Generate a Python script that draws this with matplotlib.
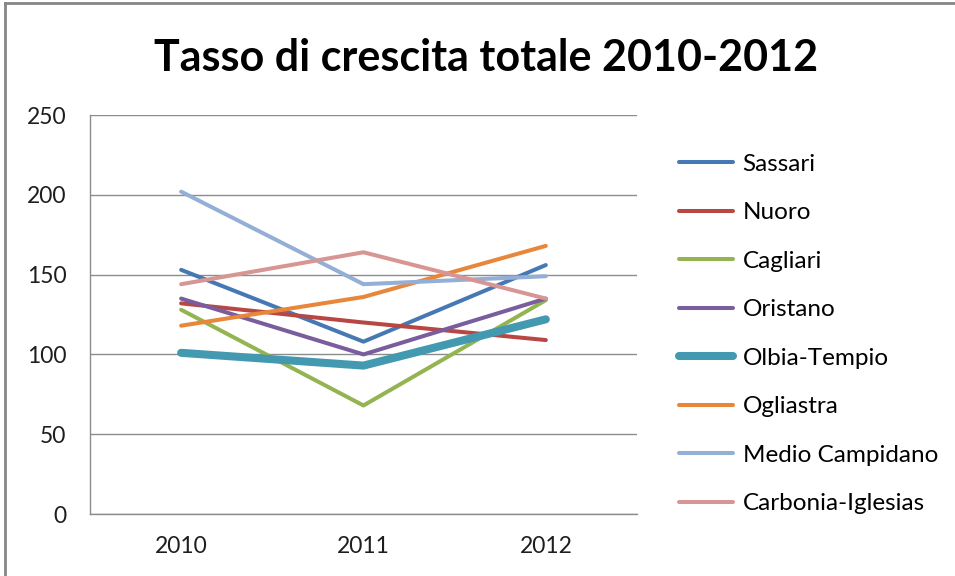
import matplotlib
matplotlib.use("Agg")
import matplotlib.pyplot as plt
from matplotlib.lines import Line2D

plt.rcParams['font.family'] = ['Lato', 'DejaVu Sans']

years = ['2010', '2011', '2012']
province = ['Sassari', 'Nuoro', 'Cagliari', 'Oristano', 'Olbia-Tempio',
            'Ogliastra', 'Medio Campidano', 'Carbonia-Iglesias']

sassari = [153, 108, 156]
nuoro = [132, 120, 109]
cagliari = [128, 68, 134]
oristano = [135, 100, 135]
olbia = [101, 93, 122]
ogliastra = [118, 136, 168]
medio_campidano = [202, 144, 149]
carbonia = [144, 164, 135]

series = [sassari, nuoro, cagliari, oristano, olbia, ogliastra, medio_campidano, carbonia]
colori = ['#4678B4', '#B84744', '#93B451', '#795D9C', '#4399B0',
          '#E8863A', '#93AFD5', '#D79593']
spessori = [2.9, 2.9, 2.9, 2.9, 5.8, 2.9, 2.9, 2.9]

fig = plt.figure(figsize=(9.55, 5.76), dpi=100)
ax = fig.add_axes([0.0942, 0.1076, 0.5728, 0.6927])

x = list(range(len(years)))
for nome, valori, c, lw in zip(province, series, colori, spessori):
    ax.plot(x, valori, color=c, lw=lw, label=nome, solid_capstyle='round',
            solid_joinstyle='round')

ax.set_xlim(-0.5, len(years) - 0.5)
ax.set_ylim(0, 250)
ax.set_yticks(range(0, 251, 50))
ax.set_xticks(x)
ax.set_xticklabels(years)
ax.grid(axis='y', color='#8c8c8c', lw=1.0)
ax.set_axisbelow(True)
for s in ['top', 'right']:
    ax.spines[s].set_visible(False)
for s in ['left', 'bottom']:
    ax.spines[s].set_color('#8c8c8c')
    ax.spines[s].set_linewidth(1.0)
ax.tick_params(length=0, labelsize=16.5, colors='#1e1e1e')
ax.tick_params(axis='y', pad=17)
ax.tick_params(axis='x', pad=16)

fig.text(0.509, 0.90, 'Tasso di crescita totale 2010-2012', ha='center', va='center',
         fontsize=31, fontweight='bold')

fig.legend(loc='upper left', bbox_to_anchor=(0.688, 0.771), frameon=False,
           fontsize=17.5, handlelength=2.22, handletextpad=0.4, labelspacing=1.13)

# bordo del grafico
fig.add_artist(Line2D([0.005, 0.005], [0.0, 0.995], color='#868686', lw=2,
                      transform=fig.transFigure))
fig.add_artist(Line2D([0.005, 1.0], [0.995, 0.995], color='#868686', lw=2,
                      transform=fig.transFigure))

fig.savefig('out.png', dpi=100)
